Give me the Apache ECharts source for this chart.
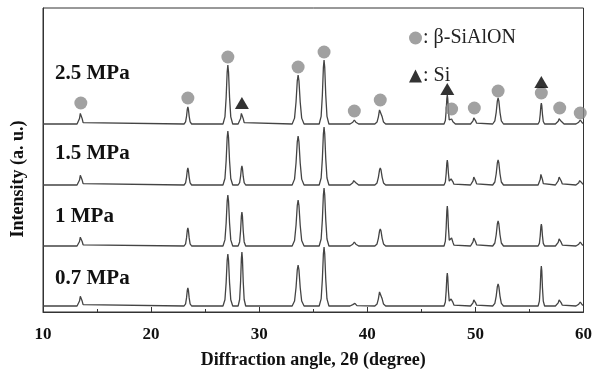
<!DOCTYPE html>
<html>
<head>
<meta charset="utf-8">
<script src="https://cdn.jsdelivr.net/npm/echarts@6/dist/echarts.min.js"></script>
<style>
  html, body { margin: 0; padding: 0; background: #fff; }
  #chart { width: 595px; height: 378px; }
</style>
</head>
<body>
<div id="chart"></div>
<script>
// peak positions (2θ) shared by all patterns
var peakPos = [13.5, 23.4, 27.1, 28.4, 33.6, 36.0, 38.8, 41.2, 47.4, 47.8, 49.9, 52.1, 56.1, 57.8, 59.7];
// half base width of each peak (degrees)
var peakHalfWidth = [0.35, 0.35, 0.45, 0.35, 0.55, 0.45, 0.4, 0.5, 0.3, 0.35, 0.35, 0.5, 0.3, 0.4, 0.4];

// peak heights (a. u.)
var h07 = [11, 18, 52, 54, 41, 59, 3, 16, 33, 8, 7, 22, 40, 7, 4];
var h1  = [10, 18, 51, 34, 46, 58, 4, 17, 40, 8, 9, 25, 22, 8, 4];
var h15 = [11, 17, 54, 19, 49, 58, 5, 17, 25, 7, 9, 25, 12, 9, 5];
var h25 = [12, 17, 59, 12, 49, 64, 4, 16, 29, 5, 7, 26, 21, 6, 4];

var traceNames = ['0.7 MPa', '1 MPa', '1.5 MPa', '2.5 MPa'];
var traceOffsets = [6, 66, 127, 188];

// phase markers on the 2.5 MPa pattern [2θ, a. u.]
var sialonMarks = [[13.5, 209], [23.4, 214], [27.1, 255], [33.6, 245], [36.0, 260], [38.8, 201],
  [41.2, 212], [47.8, 203], [49.9, 204], [52.1, 221], [56.1, 219], [57.8, 204], [59.7, 199]];
var siMarks = [[28.4, 209], [47.4, 223], [56.1, 230]];

var xTicks = [10, 20, 30, 40, 50, 60];

// peak profile: [offset / halfWidth, fraction of height]
var peakShape = [[-1, 0], [-0.6, 0.12], [-0.35, 0.45], [-0.14, 0.88], [0, 1],
  [0.14, 0.88], [0.35, 0.45], [0.6, 0.12], [1, 0]];

function profile(x, c, h, w) {
  var u = (x - c) / w;
  if (u <= -1 || u >= 1) return 0;
  for (var i = 0; i < peakShape.length - 1; i++) {
    var a = peakShape[i], b = peakShape[i + 1];
    if (u >= a[0] && u <= b[0]) {
      return h * (a[1] + (b[1] - a[1]) * (u - a[0]) / (b[0] - a[0]));
    }
  }
  return 0;
}

function buildTrace(heights, offset) {
  var xs = [xTicks[0], xTicks[xTicks.length - 1]];
  peakPos.forEach(function (c, i) {
    peakShape.forEach(function (p) { xs.push(c + p[0] * peakHalfWidth[i]); });
  });
  xs.sort(function (a, b) { return a - b; });
  return xs.filter(function (x) { return x >= 10 && x <= 60; }).map(function (x) {
    var y = 0;
    peakPos.forEach(function (c, i) { y += profile(x, c, heights[i], peakHalfWidth[i]); });
    return [x, offset + y];
  });
}

var chart = echarts.init(document.getElementById('chart'));
var serif = 'Liberation Serif';
var allHeights = [h07, h1, h15, h25];

var series = allHeights.map(function (h, i) {
  return {
    name: traceNames[i],
    type: 'line',
    data: buildTrace(h, traceOffsets[i]),
    showSymbol: false,
    lineStyle: { color: '#444', width: 1.3 },
    z: 2
  };
});
series.push({
  name: 'β-SiAlON',
  type: 'scatter',
  data: sialonMarks,
  symbol: 'circle',
  symbolSize: 13,
  itemStyle: { color: '#8a8a8a' },
  z: 3
});
series.push({
  name: 'Si',
  type: 'scatter',
  data: siMarks,
  symbol: 'triangle',
  symbolSize: [14, 12],
  itemStyle: { color: '#000' },
  z: 3
});

var labelY = [280, 218, 155, 75];
var graphics = traceNames.map(function (name, i) {
  return {
    type: 'text',
    left: 55,
    top: labelY[i] - 12,
    style: { text: name, font: 'bold 21px "Liberation Serif"', fill: '#111' }
  };
});
graphics.push({
  type: 'text',
  x: 18,
  y: 179,
  rotation: Math.PI / 2,
  style: {
    text: 'Intensity (a. u.)',
    font: 'bold 18px "Liberation Serif"',
    fill: '#111',
    align: 'center',
    verticalAlign: 'middle'
  }
});

var option = {
  animation: false,
  backgroundColor: '#fff',
  grid: {
    left: 43,
    right: 9,
    top: 8,
    bottom: 66,
    show: true,
    borderColor: '#333',
    borderWidth: 1
  },
  legend: {
    data: ['β-SiAlON', 'Si'],
    orient: 'vertical',
    left: 404,
    top: 23,
    itemWidth: 13,
    itemHeight: 13,
    itemGap: 18,
    formatter: ': {name}',
    textStyle: { fontFamily: serif, fontSize: 20, color: '#222', padding: [0, 0, 0, -4] }
  },
  xAxis: {
    type: 'value',
    min: 10,
    max: 60,
    interval: 10,
    axisLine: { lineStyle: { color: '#333', width: 1 } },
    axisTick: { inside: true, length: 5, lineStyle: { color: '#333' } },
    minorTick: { show: true, splitNumber: 2, length: 3, lineStyle: { color: '#333' } },
    splitLine: { show: false },
    axisLabel: { fontFamily: serif, fontWeight: 'bold', fontSize: 17, color: '#111', margin: 14 },
    name: 'Diffraction angle, 2θ (degree)',
    nameLocation: 'middle',
    nameGap: 39,
    nameTextStyle: { fontFamily: serif, fontWeight: 'bold', fontSize: 18, color: '#111' }
  },
  yAxis: {
    type: 'value',
    min: 0,
    max: 304,
    axisLine: { show: true, lineStyle: { color: '#333', width: 1 } },
    axisTick: { show: false },
    axisLabel: { show: false },
    splitLine: { show: false }
  },
  graphic: graphics,
  series: series
};

chart.setOption(option);
</script>
</body>
</html>
